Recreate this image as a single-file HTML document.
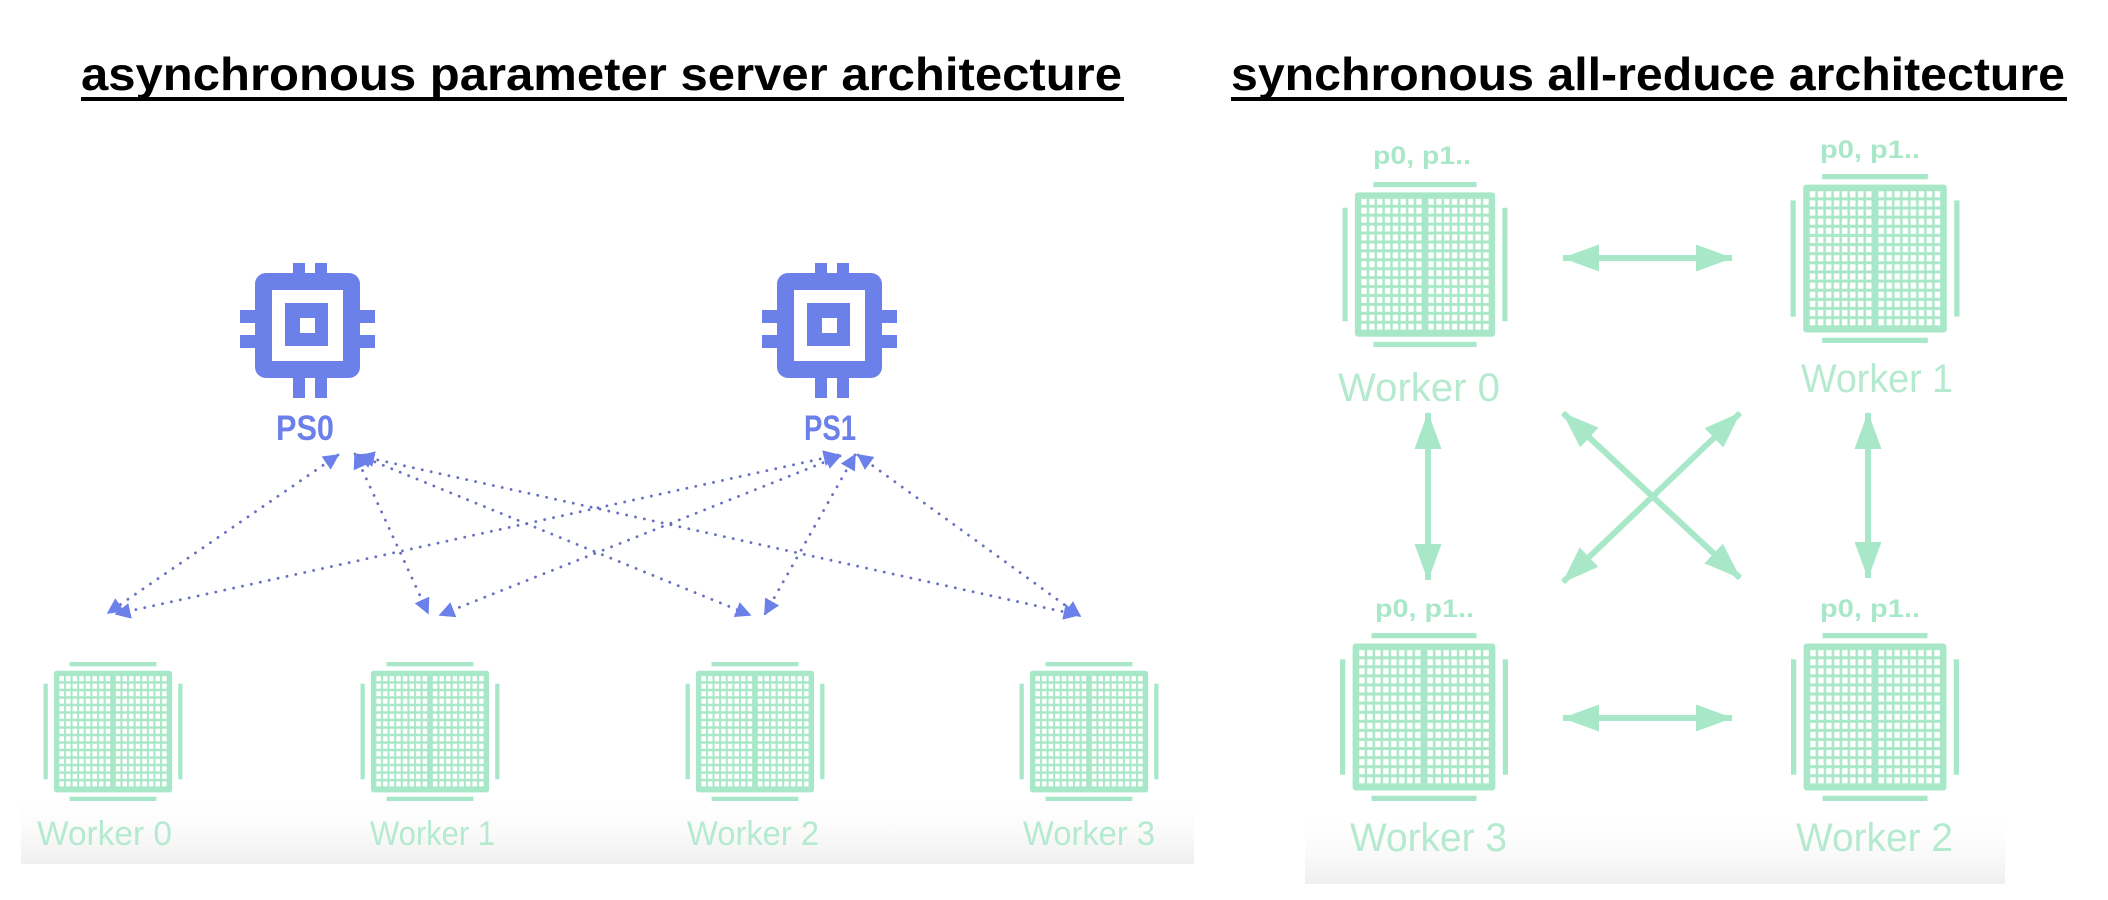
<!DOCTYPE html>
<html><head><meta charset="utf-8"><style>
html,body{margin:0;padding:0;background:#fff;}
svg{display:block;}
</style></head><body>
<svg width="2108" height="900" viewBox="0 0 2108 900" xmlns="http://www.w3.org/2000/svg">
<defs>
  <linearGradient id="fadeL" x1="0" y1="0" x2="0" y2="1">
    <stop offset="0" stop-color="#ffffff" stop-opacity="0"/>
    <stop offset="1" stop-color="#efefef"/>
  </linearGradient>
  <pattern id="cells" x="0" y="0" width="7.6" height="8.65" patternUnits="userSpaceOnUse">
    <rect x="1.3" y="1.3" width="5.2" height="5.8" fill="#ffffff"/>
  </pattern>
  <symbol id="chip" viewBox="0 0 160 160">
    <rect x="30" y="0" width="100" height="5" fill="#a8e8c8"/>
    <rect x="30" y="155" width="100" height="5" fill="#a8e8c8"/>
    <rect x="0" y="25" width="5" height="110" fill="#a8e8c8"/>
    <rect x="155" y="25" width="5" height="110" fill="#a8e8c8"/>
    <rect x="12" y="10" width="136" height="140" rx="3" fill="#a8e8c8"/>
    <g transform="translate(17,15)"><rect width="61" height="130" fill="url(#cells)"/></g>
    <g transform="translate(82,15)"><rect width="61" height="130" fill="url(#cells)"/></g>
  </symbol>
  <symbol id="cpu" viewBox="0 0 135 135">
    <rect x="15" y="10" width="105" height="105" rx="11" fill="#6b80e8"/>
    <rect x="53" y="0" width="12" height="135" fill="#6b80e8"/>
    <rect x="75" y="0" width="12" height="135" fill="#6b80e8"/>
    <rect x="0" y="47" width="135" height="13" fill="#6b80e8"/>
    <rect x="0" y="72" width="135" height="13" fill="#6b80e8"/>
    <rect x="32" y="27" width="71" height="71" fill="#fff"/>
    <rect x="45" y="40" width="43" height="43" fill="#6b80e8"/>
    <rect x="60" y="55" width="15" height="15" fill="#fff"/>
  </symbol>
  <marker id="dh" viewBox="0 0 10 10" refX="9" refY="5" markerWidth="16" markerHeight="16" markerUnits="userSpaceOnUse" orient="auto-start-reverse">
    <path d="M0,0 L10,5 L0,10 z" fill="#6b80e8"/>
  </marker>
  <marker id="gh" viewBox="0 0 37 27" refX="36" refY="13.5" markerWidth="37" markerHeight="27" markerUnits="userSpaceOnUse" orient="auto-start-reverse">
    <path d="M0,0 L37,13.5 L0,27 z" fill="#a8e8c8"/>
  </marker>
</defs>

<rect x="21" y="790" width="1173" height="74" fill="url(#fadeL)"/>
<rect x="1305" y="810" width="700" height="74" fill="url(#fadeL)"/>

<text x="81" y="90" font-family="Liberation Sans, sans-serif" font-weight="bold" font-size="46" textLength="1041" lengthAdjust="spacingAndGlyphs" fill="#000">asynchronous parameter server architecture</text>
<rect x="81" y="97" width="1043" height="4" fill="#000"/>
<text x="1231" y="90" font-family="Liberation Sans, sans-serif" font-weight="bold" font-size="46" textLength="834" lengthAdjust="spacingAndGlyphs" fill="#000">synchronous all-reduce architecture</text>
<rect x="1231" y="97" width="836" height="4" fill="#000"/>

<use href="#cpu" x="240" y="263" width="135" height="135"/>
<use href="#cpu" x="762" y="263" width="135" height="135"/>
<text x="305" y="440" text-anchor="middle" font-family="Liberation Sans, sans-serif" font-weight="bold" font-size="35" textLength="58" lengthAdjust="spacingAndGlyphs" fill="#6b80e8">PS0</text>
<text x="830" y="440" text-anchor="middle" font-family="Liberation Sans, sans-serif" font-weight="bold" font-size="35" textLength="52" lengthAdjust="spacingAndGlyphs" fill="#6b80e8">PS1</text>

<g stroke="#6670c0" stroke-width="2.8" stroke-linecap="round" stroke-dasharray="0.1 9" fill="none" marker-start="url(#dh)" marker-end="url(#dh)">
  <line x1="338" y1="455" x2="108" y2="613"/>
  <line x1="355" y1="454" x2="428" y2="613"/>
  <line x1="358" y1="455" x2="750" y2="615"/>
  <line x1="360" y1="456" x2="1078" y2="615"/>
  <line x1="838" y1="455" x2="116" y2="614"/>
  <line x1="840" y1="456" x2="440" y2="615"/>
  <line x1="855" y1="455" x2="765" y2="614"/>
  <line x1="858" y1="455" x2="1080" y2="616"/>
</g>

<use href="#chip" x="43" y="662" width="140" height="139"/>
<use href="#chip" x="360" y="662" width="140" height="139"/>
<use href="#chip" x="685" y="662" width="140" height="139"/>
<use href="#chip" x="1019" y="662" width="140" height="139"/>
<g font-family="Liberation Sans, sans-serif" font-size="34" fill="#b5ead0">
  <text x="37" y="845" textLength="135" lengthAdjust="spacingAndGlyphs">Worker 0</text>
  <text x="370" y="845" textLength="125" lengthAdjust="spacingAndGlyphs">Worker 1</text>
  <text x="687" y="845" textLength="132" lengthAdjust="spacingAndGlyphs">Worker 2</text>
  <text x="1023" y="845" textLength="132" lengthAdjust="spacingAndGlyphs">Worker 3</text>
</g>

<use href="#chip" x="1342" y="182" width="166" height="165"/>
<use href="#chip" x="1790" y="174" width="170" height="169"/>
<use href="#chip" x="1339" y="633" width="170" height="168"/>
<use href="#chip" x="1790" y="633" width="170" height="168"/>
<g font-family="Liberation Sans, sans-serif" font-weight="bold" font-size="25" fill="#a8e8c8">
  <text x="1373" y="164" textLength="98" lengthAdjust="spacingAndGlyphs">p0, p1..</text>
  <text x="1820" y="158" textLength="100" lengthAdjust="spacingAndGlyphs">p0, p1..</text>
  <text x="1375" y="617" textLength="99" lengthAdjust="spacingAndGlyphs">p0, p1..</text>
  <text x="1820" y="617" textLength="100" lengthAdjust="spacingAndGlyphs">p0, p1..</text>
</g>
<g font-family="Liberation Sans, sans-serif" font-size="40" fill="#b5ead0">
  <text x="1338" y="401" textLength="162" lengthAdjust="spacingAndGlyphs">Worker 0</text>
  <text x="1801" y="392" textLength="152" lengthAdjust="spacingAndGlyphs">Worker 1</text>
  <text x="1350" y="851" textLength="157" lengthAdjust="spacingAndGlyphs">Worker 3</text>
  <text x="1796" y="851" textLength="157" lengthAdjust="spacingAndGlyphs">Worker 2</text>
</g>

<g stroke="#a8e8c8" stroke-width="6" fill="none" marker-start="url(#gh)" marker-end="url(#gh)">
  <line x1="1563" y1="258" x2="1732" y2="258"/>
  <line x1="1563" y1="718" x2="1732" y2="718"/>
  <line x1="1428" y1="413" x2="1428" y2="580"/>
  <line x1="1868" y1="413" x2="1868" y2="578"/>
  <line x1="1563" y1="413" x2="1740" y2="578"/>
  <line x1="1740" y1="413" x2="1563" y2="582"/>
</g>
</svg>
</body></html>
